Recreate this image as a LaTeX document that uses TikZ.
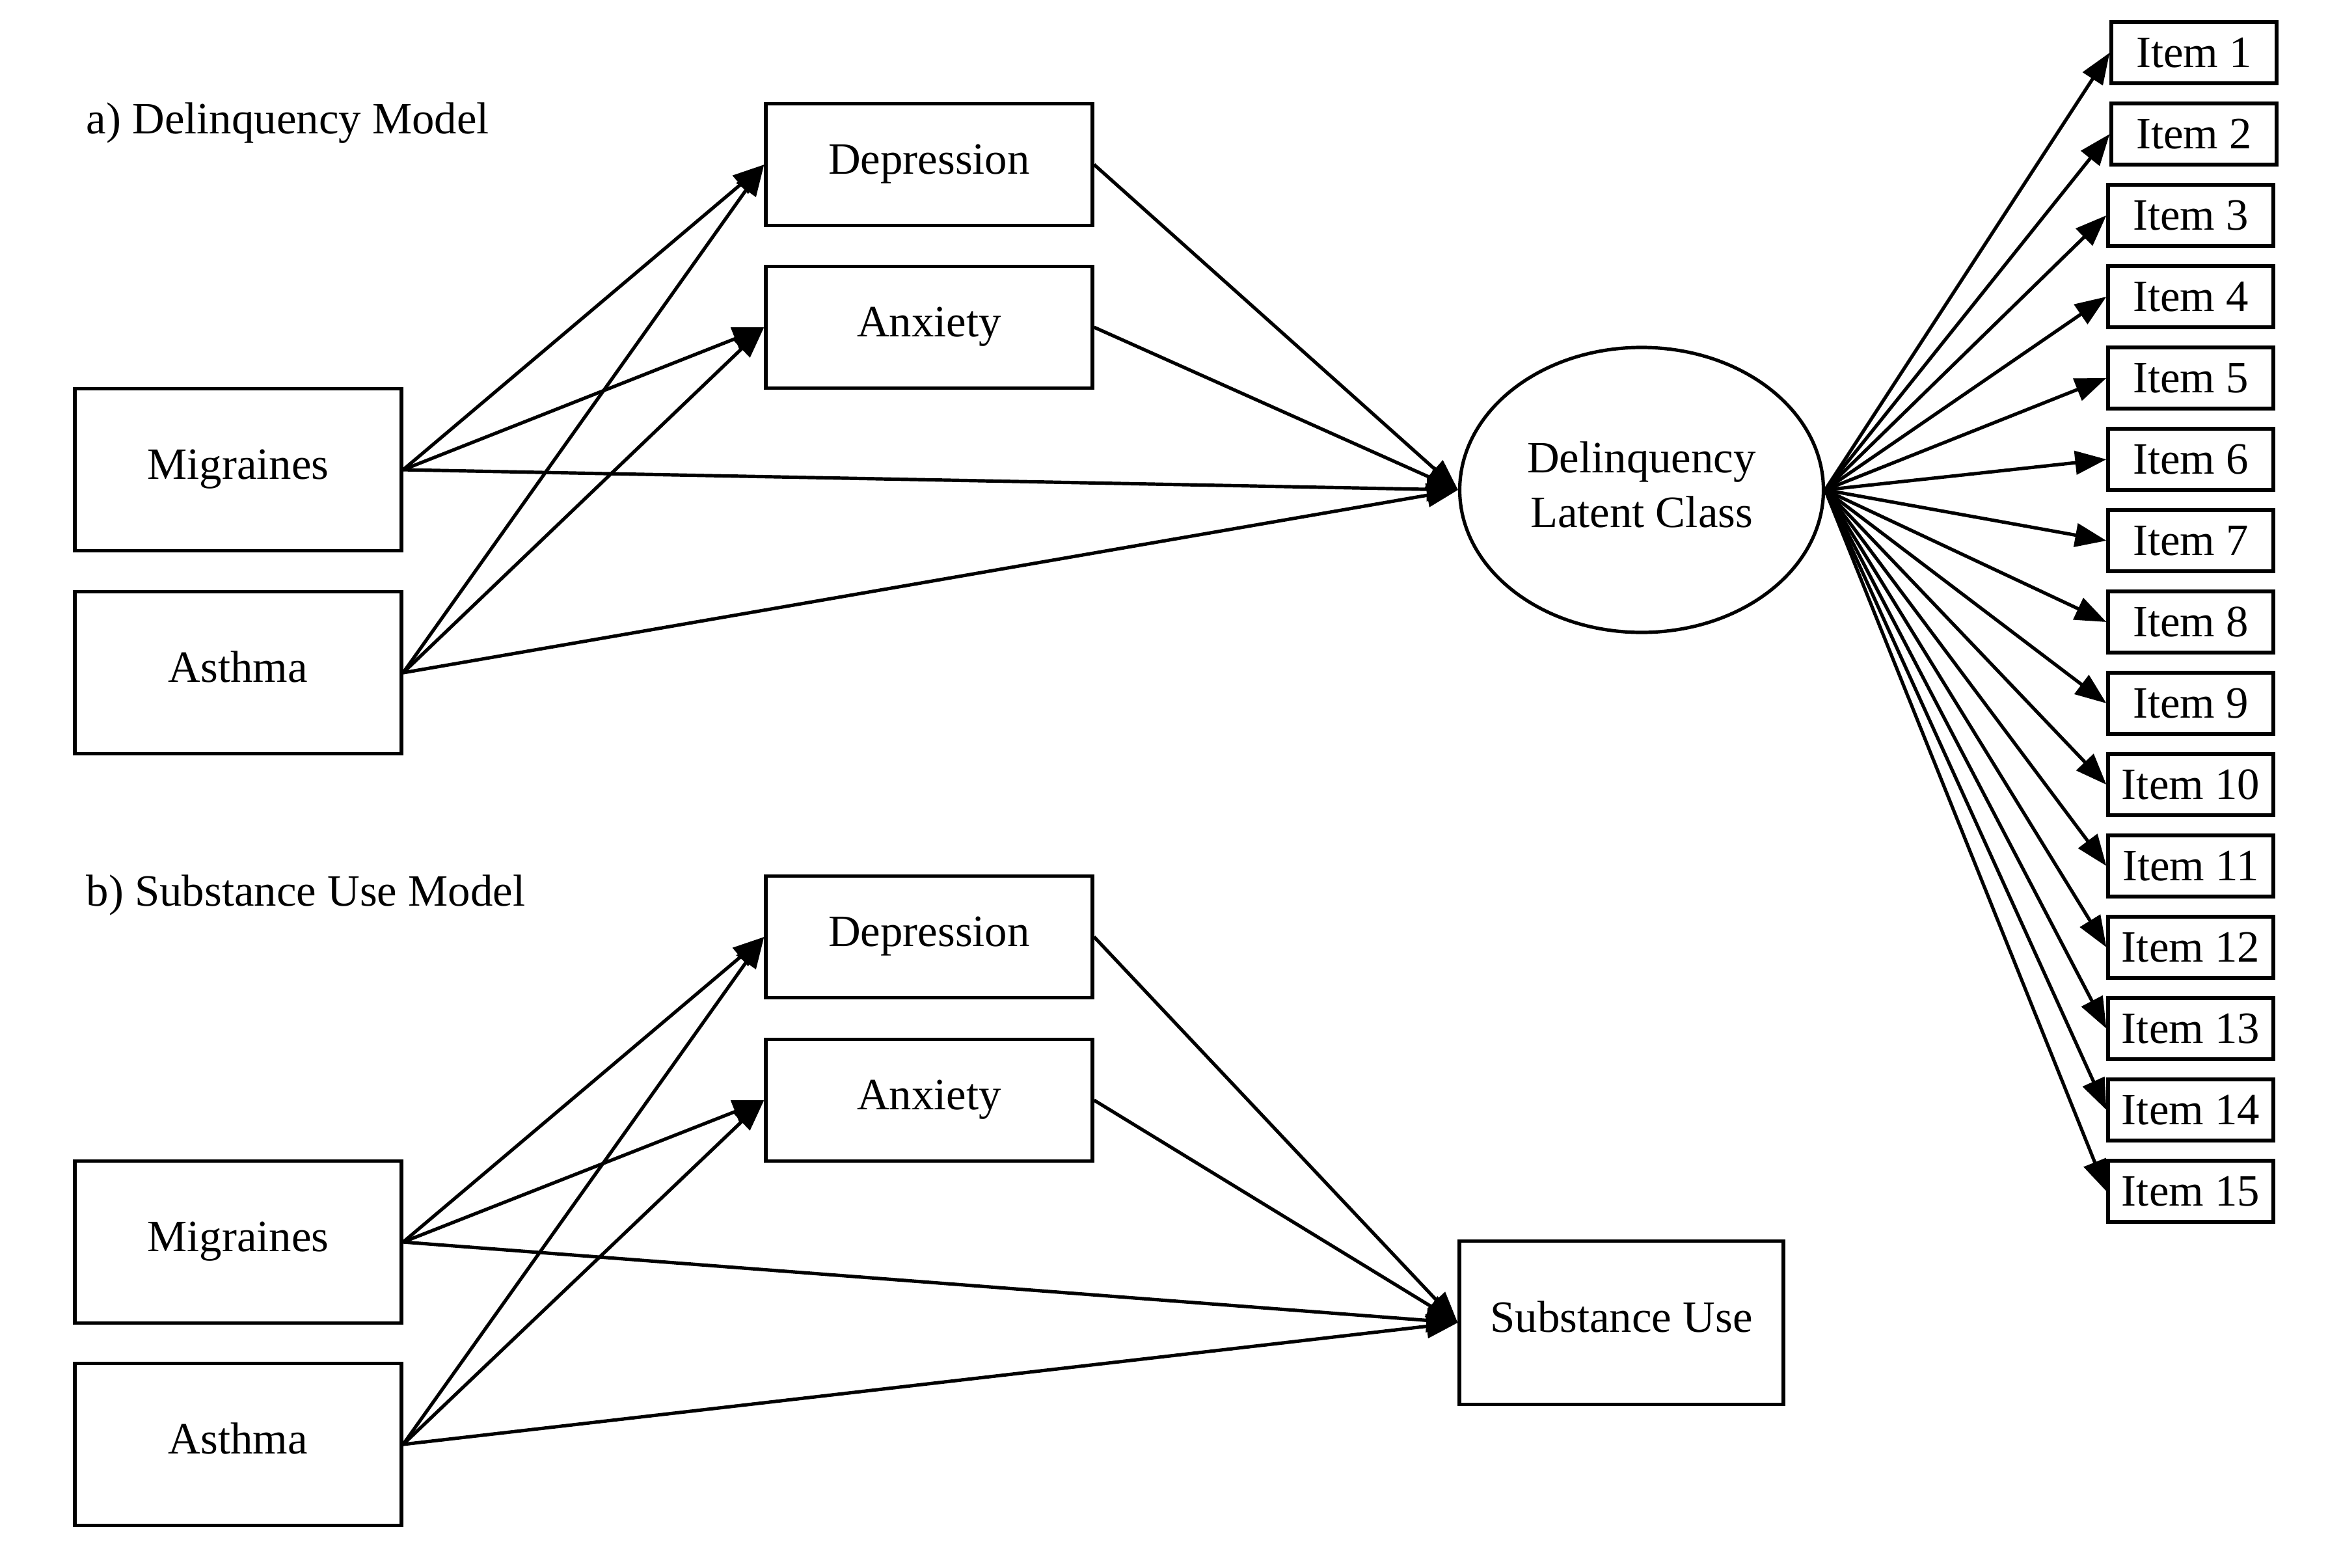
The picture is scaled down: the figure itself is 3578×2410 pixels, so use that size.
\documentclass[tikz,border=0pt]{standalone}
\usepackage{fontspec}
\setmainfont{Liberation Serif}
\usetikzlibrary{arrows.meta,positioning,shapes.geometric}

\begin{document}
\begin{tikzpicture}[x=0.25pt,y=-0.25pt,every node/.style={font=\fontsize{17.2}{21}\selectfont},
  varbox/.style={draw,line width=1.3pt,minimum width=125.5pt,inner sep=0pt,text height=15pt,text depth=8pt},
  itembox/.style={draw,line width=1.3pt,minimum width=63.5pt,minimum height=23.5pt,inner sep=0pt},
  title/.style={anchor=west,inner sep=0pt,text height=15pt,text depth=8pt},
  arr/.style={line width=1.3pt,-{Triangle[length=12pt,width=9pt]}}]
\useasboundingbox (0,0) rectangle (3578,2410);
% a) delinquency model
\node[title] (titleA) at (132,191) {a) Delinquency Model};
\node[varbox,minimum height=46.75pt] (depA) at (1428,253) {Depression};
\node[varbox,minimum height=46.75pt] (anxA) at (1428,503) {Anxiety};
\node[varbox,minimum height=62.25pt] (migA) at (366,722) {Migraines};
\node[varbox,minimum height=62.25pt] (astA) at (366,1034) {Asthma};
\node[draw,ellipse,line width=1.3pt,minimum width=139.75pt,minimum height=109.5pt,align=center,inner sep=0pt,text height=36.5pt,text depth=8pt] (lat) at (2523,753) {Delinquency\\Latent Class};
\draw[arr] (migA.east) -- (depA.west);
\draw[arr] (migA.east) -- (anxA.west);
\draw[arr] (migA.east) -- (lat.west);
\draw[arr] (astA.east) -- (depA.west);
\draw[arr] (astA.east) -- (anxA.west);
\draw[arr] (astA.east) -- (lat.west);
\draw[arr] (depA.east) -- (lat.west);
\draw[arr] (anxA.east) -- (lat.west);
% items
\node[itembox] (it1) at (3372,81) {Item 1};
\node[itembox] (it2) at (3372,206) {Item 2};
\node[itembox] (it3) at (3367,331) {Item 3};
\node[itembox] (it4) at (3367,456) {Item 4};
\node[itembox] (it5) at (3367,581) {Item 5};
\node[itembox] (it6) at (3367,706) {Item 6};
\node[itembox] (it7) at (3367,831) {Item 7};
\node[itembox] (it8) at (3367,956) {Item 8};
\node[itembox] (it9) at (3367,1081) {Item 9};
\node[itembox] (it10) at (3367,1206) {Item 10};
\node[itembox] (it11) at (3367,1331) {Item 11};
\node[itembox] (it12) at (3367,1456) {Item 12};
\node[itembox] (it13) at (3367,1581) {Item 13};
\node[itembox] (it14) at (3367,1706) {Item 14};
\node[itembox] (it15) at (3367,1831) {Item 15};
\draw[arr] (lat.east) -- (it1.west);
\draw[arr] (lat.east) -- (it2.west);
\draw[arr] (lat.east) -- (it3.west);
\draw[arr] (lat.east) -- (it4.west);
\draw[arr] (lat.east) -- (it5.west);
\draw[arr] (lat.east) -- (it6.west);
\draw[arr] (lat.east) -- (it7.west);
\draw[arr] (lat.east) -- (it8.west);
\draw[arr] (lat.east) -- (it9.west);
\draw[arr] (lat.east) -- (it10.west);
\draw[arr] (lat.east) -- (it11.west);
\draw[arr] (lat.east) -- (it12.west);
\draw[arr] (lat.east) -- (it13.west);
\draw[arr] (lat.east) -- (it14.west);
\draw[arr] (lat.east) -- (it15.west);
% b) substance use model
\node[title] (titleB) at (132,1378) {b) Substance Use Model};
\node[varbox,minimum height=46.75pt] (depB) at (1428,1440) {Depression};
\node[varbox,minimum height=46.75pt] (anxB) at (1428,1691) {Anxiety};
\node[varbox,minimum height=62.25pt] (migB) at (366,1909) {Migraines};
\node[varbox,minimum height=62.25pt] (astB) at (366,2220) {Asthma};
\node[varbox,minimum width=124.5pt,minimum height=62.75pt] (sub) at (2492,2033) {Substance Use};
\draw[arr] (migB.east) -- (depB.west);
\draw[arr] (migB.east) -- (anxB.west);
\draw[arr] (migB.east) -- (sub.west);
\draw[arr] (astB.east) -- (depB.west);
\draw[arr] (astB.east) -- (anxB.west);
\draw[arr] (astB.east) -- (sub.west);
\draw[arr] (depB.east) -- (sub.west);
\draw[arr] (anxB.east) -- (sub.west);
\end{tikzpicture}
\end{document}
